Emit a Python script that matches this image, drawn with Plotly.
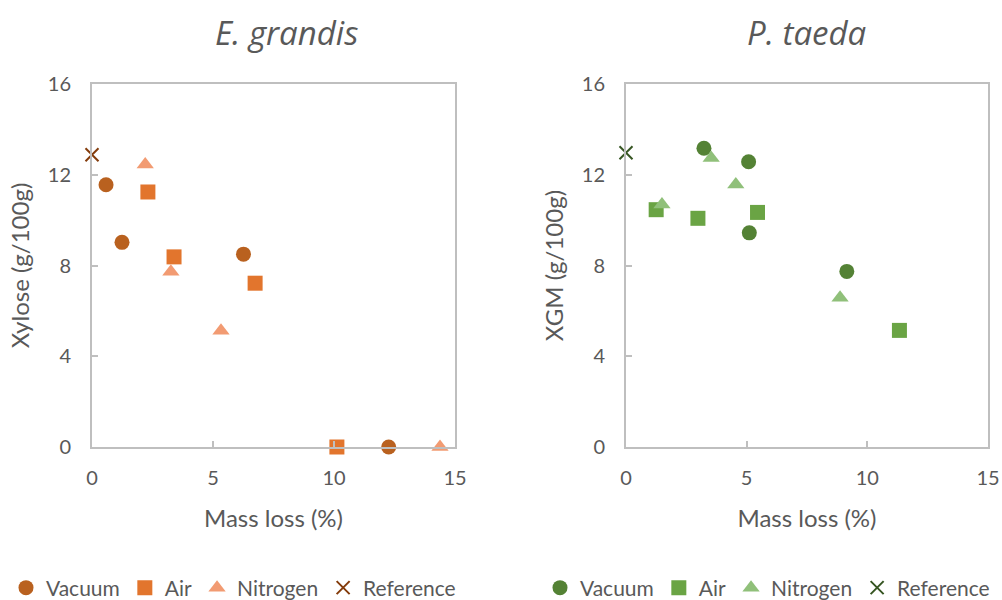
import plotly.graph_objects as go

# ---- data ----
series_names = ["Vacuum", "Air", "Nitrogen", "Reference"]

# E. grandis (left)
eg_vacuum_x = [0.58, 1.24, 6.26, 12.26]
eg_vacuum_y = [11.56, 9.02, 8.50, 0.0]
eg_air_x = [2.31, 3.39, 6.74, 10.12]
eg_air_y = [11.24, 8.38, 7.22, 0.0]
eg_nitrogen_x = [2.20, 3.26, 5.33, 14.38]
eg_nitrogen_y = [12.45, 7.72, 5.12, 0.0]
eg_reference_x = [0.0]
eg_reference_y = [12.88]

# P. taeda (right)
pt_vacuum_x = [3.23, 5.08, 5.11, 9.15]
pt_vacuum_y = [13.17, 12.57, 9.44, 7.74]
pt_air_x = [1.25, 2.98, 5.45, 11.33]
pt_air_y = [10.46, 10.08, 10.34, 5.14]
pt_nitrogen_x = [1.49, 3.53, 4.55, 8.87]
pt_nitrogen_y = [10.69, 12.74, 11.57, 6.58]
pt_reference_x = [0.0]
pt_reference_y = [12.97]

x_ticks = [0, 5, 10, 15]
y_ticks = [0, 4, 8, 12, 16]

# ---- styles ----
FONT = "Lato"
TXT = "#595959"
AX = "#BFBFBF"
orange = {"Vacuum": "#B9611F", "Air": "#E2752D", "Nitrogen": "#F29B72", "Reference": "#843C0C"}
green = {"Vacuum": "#548235", "Air": "#6AA444", "Nitrogen": "#90C07A", "Reference": "#375623"}
symbols = {"Vacuum": "circle", "Air": "square", "Nitrogen": "triangle-up", "Reference": "x-thin"}
sizes = {"Vacuum": 15, "Air": 15, "Nitrogen": 15, "Reference": 13}

fig = go.Figure()

def add(name, xs, ys, colors, xa, ya, legend):
    sym = symbols[name]
    if sym == "x-thin":
        marker = dict(symbol=sym, size=sizes[name], color=colors[name],
                      line=dict(color=colors[name], width=2))
    else:
        marker = dict(symbol=sym, size=sizes[name], color=colors[name],
                      line=dict(width=0))
    fig.add_trace(go.Scatter(x=xs, y=ys, mode="markers", name=name, marker=marker,
                             xaxis=xa, yaxis=ya, legend=legend, cliponaxis=False))

left = {"Vacuum": (eg_vacuum_x, eg_vacuum_y), "Air": (eg_air_x, eg_air_y),
        "Nitrogen": (eg_nitrogen_x, eg_nitrogen_y), "Reference": (eg_reference_x, eg_reference_y)}
right = {"Vacuum": (pt_vacuum_x, pt_vacuum_y), "Air": (pt_air_x, pt_air_y),
         "Nitrogen": (pt_nitrogen_x, pt_nitrogen_y), "Reference": (pt_reference_x, pt_reference_y)}

for n in series_names:
    add(n, *left[n], orange, "x", "y", "legend")
for n in series_names:
    add(n, *right[n], green, "x2", "y2", "legend2")

# body margin is removed in post_script, so the figure sits at the page origin
W, H = 1002, 600

def px(x):
    return x / W

def py(y):
    return 1 - y / H

ydom = [py(447), py(84)]

def xaxis(dom, anchor):
    return dict(domain=dom, anchor=anchor, range=[0, 15], tickvals=x_ticks,
                showline=True, linecolor=AX, linewidth=2, mirror=True,
                ticks="inside", ticklen=6, tickcolor=AX, tickwidth=1.5,
                showgrid=False, zeroline=False, ticklabelstandoff=12,
                automargin=False,
                tickfont=dict(family=FONT, size=20, color=TXT),
                title=dict(text="Mass loss (%)", standoff=22,
                           font=dict(family=FONT, size=24, color=TXT)))

def yaxis(anchor, title):
    return dict(domain=ydom, anchor=anchor, range=[0, 16], tickvals=y_ticks,
                showline=True, linecolor=AX, linewidth=2, mirror=True,
                ticks="inside", ticklen=6, tickcolor=AX, tickwidth=1.5,
                showgrid=False, zeroline=False, ticklabelstandoff=15,
                automargin=False,
                tickfont=dict(family=FONT, size=20, color=TXT),
                title=dict(text=title, standoff=11,
                           font=dict(family=FONT, size=24, color=TXT)))

legend_style = dict(orientation="h", yanchor="middle", y=py(588), xanchor="left",
                    font=dict(family=FONT, size=21, color=TXT), bgcolor="rgba(0,0,0,0)",
                    itemwidth=30, tracegroupgap=0)

fig.update_layout(
    width=W, height=H, margin=dict(l=0, r=0, t=0, b=0, autoexpand=False),
    paper_bgcolor="white", plot_bgcolor="white",
    xaxis=xaxis([px(92), px(455)], "y"),
    yaxis=yaxis("x", "Xylose (g/100g)"),
    xaxis2=xaxis([px(626), px(988)], "y2"),
    yaxis2=yaxis("x2", "XGM (g/100g)"),
    legend=dict(x=px(6), **legend_style),
    legend2=dict(x=px(540), **legend_style),
    annotations=[
        dict(text="<i>E. grandis</i>", x=px(286), y=py(32), xref="paper", yref="paper",
             showarrow=False, xanchor="center", yanchor="middle",
             font=dict(family="Open Sans", size=33, color=TXT)),
        dict(text="<i>P. taeda</i>", x=px(806), y=py(32), xref="paper", yref="paper",
             showarrow=False, xanchor="center", yanchor="middle",
             font=dict(family="Open Sans", size=33, color=TXT)),
    ],
)

fig.write_html(
    "out.html",
    config={"displayModeBar": False},
    post_script="document.body.style.margin='0';document.body.style.overflow='hidden';",
)
